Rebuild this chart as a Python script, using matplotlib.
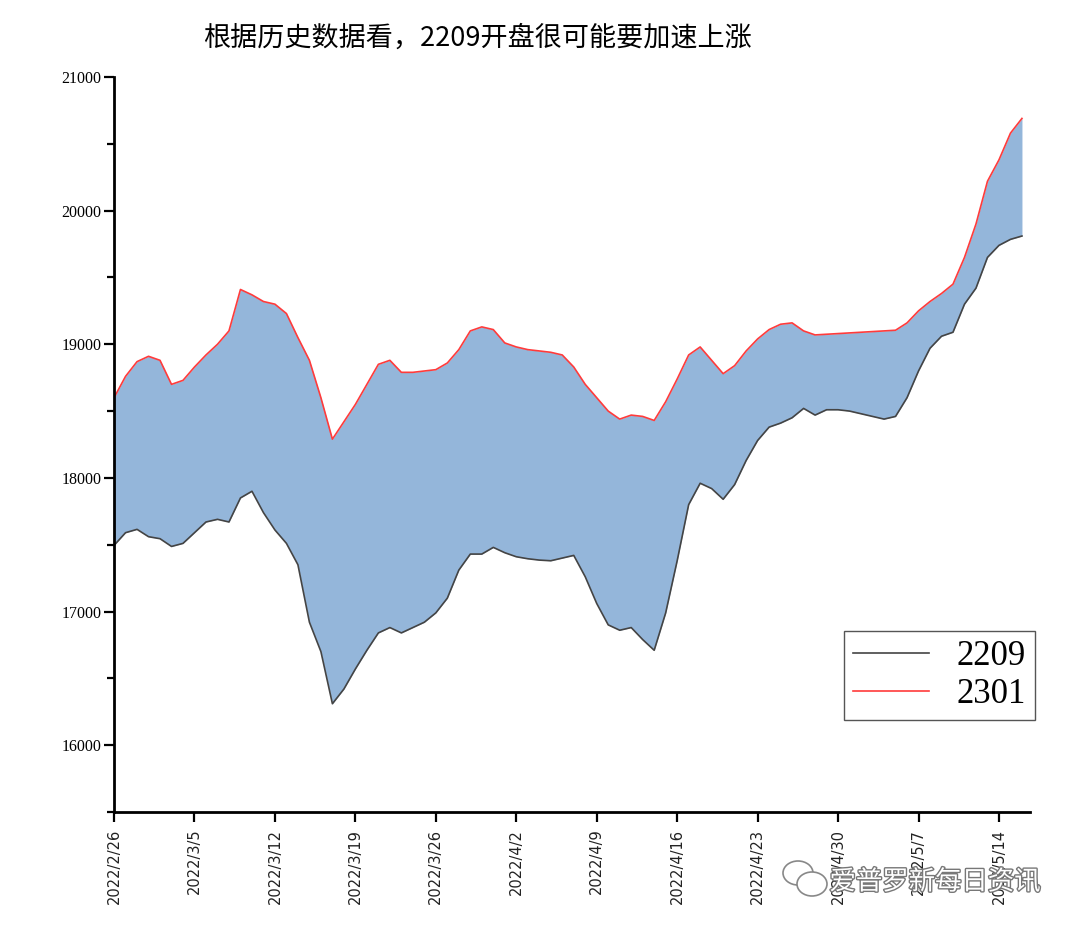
import matplotlib
matplotlib.use("Agg")
import matplotlib.pyplot as plt
import matplotlib.dates as mdates
import matplotlib.patheffects as pe
from matplotlib.patches import Ellipse
from matplotlib.ticker import MultipleLocator
import pandas as pd

# daily values, 2022/2/26 .. 2022/5/16
dates = pd.date_range("2022-02-26", periods=80, freq="D")
c2209 = [17495, 17590, 17615, 17560, 17545, 17487, 17510, 17590, 17670, 17690,
         17670, 17850, 17900, 17740, 17610, 17510, 17350, 16920, 16700, 16310,
         16420, 16570, 16710, 16840, 16880, 16840, 16880, 16920, 16990, 17100,
         17310, 17430, 17430, 17480, 17440, 17410, 17395, 17385, 17380, 17400,
         17420, 17260, 17060, 16900, 16860, 16880, 16790, 16710, 16990, 17380,
         17800, 17960, 17920, 17840, 17950, 18130, 18280, 18380, 18410, 18450,
         18520, 18470, 18510, 18510, 18500, 18480, 18460, 18440, 18460, 18600,
         18800, 18970, 19060, 19090, 19300, 19420, 19650, 19740, 19785, 19810]
c2301 = [18600, 18760, 18870, 18910, 18880, 18700, 18730, 18830, 18920, 19000,
         19100, 19410, 19370, 19320, 19300, 19230, 19050, 18880, 18600, 18290,
         18420, 18550, 18700, 18850, 18880, 18790, 18790, 18800, 18810, 18860,
         18960, 19100, 19130, 19110, 19010, 18980, 18960, 18950, 18940, 18920,
         18830, 18700, 18600, 18500, 18440, 18470, 18460, 18430, 18570, 18740,
         18920, 18980, 18880, 18780, 18840, 18950, 19040, 19110, 19150, 19160,
         19100, 19070, 19075, 19080, 19085, 19090, 19095, 19100, 19105, 19160,
         19250, 19320, 19380, 19450, 19650, 19900, 20220, 20380, 20580, 20690]
series_names = ["2209", "2301"]
title = "根据历史数据看，2209开盘很可能要加速上涨"
watermark = "爱普罗新每日资讯"

fig = plt.figure(figsize=(10.8, 9.3), dpi=100)
ax = fig.add_axes([0.1056, 0.1269, 0.8481, 0.7903])

ax.fill_between(dates, c2209, c2301, color="#94b6da", lw=0)
ax.plot(dates, c2209, color="#444444", lw=1.2, label=series_names[0])
ax.plot(dates, c2301, color="#ff3b3b", lw=1.2, label=series_names[1])
ax.plot([dates[0], dates[0]], [c2209[0], c2301[0]], color="#5a80ad", lw=1.5)

ax.set_ylim(15500, 21000)
ax.set_xlim(dates[0], dates[0] + pd.Timedelta(days=79.7))
ax.yaxis.set_major_locator(MultipleLocator(1000))
ax.yaxis.set_minor_locator(MultipleLocator(500))
ticks = pd.date_range("2022-02-26", "2022-05-14", freq="7D")
ax.set_xticks(ticks)
ax.set_xticklabels([f"{d.year}/{d.month}/{d.day}" for d in ticks], rotation=90,
                   fontsize=10.5, family="DejaVu Sans", color="#222222")
for lab in ax.get_yticklabels():
    lab.set_family("Liberation Serif")
ax.tick_params(axis="y", labelsize=11.5, pad=2)
ax.tick_params(which="major", length=7, width=1.6, direction="out")
ax.tick_params(which="minor", length=5, width=1.6, direction="out")
ax.tick_params(axis="x", pad=5)

for s in ["top", "right"]:
    ax.spines[s].set_visible(False)
for s in ["left", "bottom"]:
    ax.spines[s].set_linewidth(2)

leg = ax.legend(loc="upper right", bbox_to_anchor=(1035 / 1080, 1 - 631 / 930),
                bbox_transform=fig.transFigure, prop={"family": "Liberation Serif", "size": 25},
                fancybox=False, framealpha=1, edgecolor="#555555", handlelength=2.2,
                handletextpad=0.8, borderpad=0.25, labelspacing=0.15, borderaxespad=0)
leg.get_frame().set_linewidth(1)

fig.text(0.442, 0.959, title, ha="center", va="center", fontsize=19.5,
         family=["Noto Sans CJK SC", "DejaVu Sans"])

# watermark: wechat bubbles + account name
for cx, cy, w, h in [(798, 873, 30, 24), (812, 884, 30, 24)]:
    fig.patches.append(Ellipse((cx / 1080, 1 - cy / 930), w / 1080, h / 930,
                               transform=fig.transFigure, facecolor="white",
                               edgecolor="#888888", lw=1.2, zorder=5))
fig.text(935 / 1080, 1 - 882 / 930, watermark, ha="center", va="center", fontsize=19,
         color="white", family=["Noto Sans CJK SC", "DejaVu Sans"], zorder=6,
         path_effects=[pe.withStroke(linewidth=2, foreground="#777777")])

fig.savefig("out.png", dpi=100)
